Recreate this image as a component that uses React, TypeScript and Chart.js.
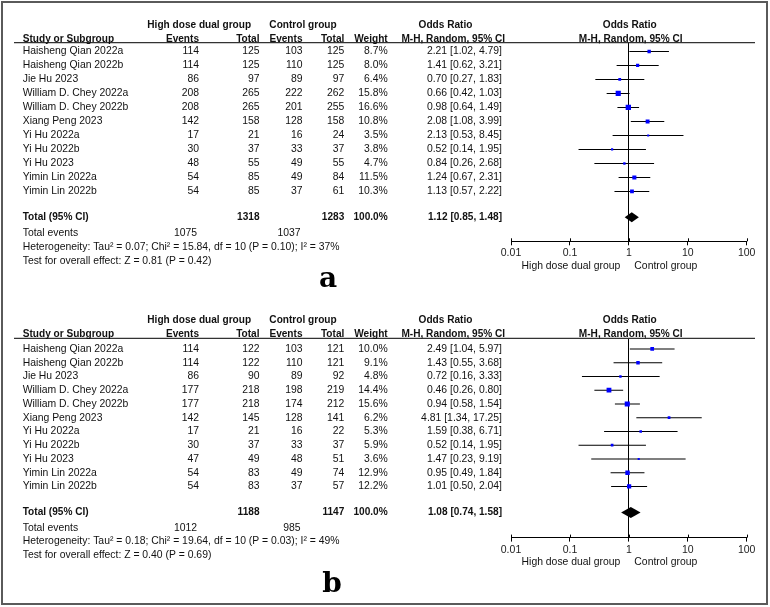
import React, { useEffect, useRef } from 'react';
import { Chart, registerables } from 'chart.js';

Chart.register(...registerables);

// ---------------- DATA ----------------
const studies = [
  'Haisheng Qian 2022a', 'Haisheng Qian 2022b', 'Jie Hu 2023', 'William D. Chey 2022a',
  'William D. Chey 2022b', 'Xiang Peng 2023', 'Yi Hu 2022a', 'Yi Hu 2022b', 'Yi Hu 2023',
  'Yimin Lin 2022a', 'Yimin Lin 2022b',
];

const aEventsHigh = [114, 114, 86, 208, 208, 142, 17, 30, 48, 54, 54];
const aTotalHigh = [125, 125, 97, 265, 265, 158, 21, 37, 55, 85, 85];
const aEventsCtrl = [103, 110, 89, 222, 201, 128, 16, 33, 49, 49, 37];
const aTotalCtrl = [125, 125, 97, 262, 255, 158, 24, 37, 55, 84, 61];
const aWeight = [8.7, 8.0, 6.4, 15.8, 16.6, 10.8, 3.5, 3.8, 4.7, 11.5, 10.3];
const aOR = [2.21, 1.41, 0.70, 0.66, 0.98, 2.08, 2.13, 0.52, 0.84, 1.24, 1.13];
const aLow = [1.02, 0.62, 0.27, 0.42, 0.64, 1.08, 0.53, 0.14, 0.26, 0.67, 0.57];
const aHigh = [4.79, 3.21, 1.83, 1.03, 1.49, 3.99, 8.45, 1.95, 2.68, 2.31, 2.22];
const aTotals = [1318, 1283];
const aTotalEvents = [1075, 1037];
const aPooled = [1.12, 0.85, 1.48];
const aHetero = 'Heterogeneity: Tau² = 0.07; Chi² = 15.84, df = 10 (P = 0.10); I² = 37%';
const aTest = 'Test for overall effect: Z = 0.81 (P = 0.42)';

const bEventsHigh = [114, 114, 86, 177, 177, 142, 17, 30, 47, 54, 54];
const bTotalHigh = [122, 122, 90, 218, 218, 145, 21, 37, 49, 83, 83];
const bEventsCtrl = [103, 110, 89, 198, 174, 128, 16, 33, 48, 49, 37];
const bTotalCtrl = [121, 121, 92, 219, 212, 141, 22, 37, 51, 74, 57];
const bWeight = [10.0, 9.1, 4.8, 14.4, 15.6, 6.2, 5.3, 5.9, 3.6, 12.9, 12.2];
const bOR = [2.49, 1.43, 0.72, 0.46, 0.94, 4.81, 1.59, 0.52, 1.47, 0.95, 1.01];
const bLow = [1.04, 0.55, 0.16, 0.26, 0.58, 1.34, 0.38, 0.14, 0.23, 0.49, 0.50];
const bHigh = [5.97, 3.68, 3.33, 0.80, 1.54, 17.25, 6.71, 1.95, 9.19, 1.84, 2.04];
const bTotals = [1188, 1147];
const bTotalEvents = [1012, 985];
const bPooled = [1.08, 0.74, 1.58];
const bHetero = 'Heterogeneity: Tau² = 0.18; Chi² = 19.64, df = 10 (P = 0.03); I² = 49%';
const bTest = 'Test for overall effect: Z = 0.40 (P = 0.69)';

const tickValues = [0.01, 0.1, 1, 10, 100];
const tickLabels = ['0.01', '0.1', '1', '10', '100'];
const groupNames = ['High dose dual group', 'Control group'];
const panelLetters = ['a', 'b'];

// ---------------- STYLE / LAYOUT ----------------
const FONT = '"Liberation Sans", Arial, Helvetica, sans-serif';
const REG = 10.4;
const BOLD = 10.1;
const TXT = '#111';
const BLUE = '#0000ff';

const COL = { name: 22.7, evH: 199, totH: 259.5, evC: 302.5, totC: 344.3, wt: 387.7, orTxt: 502 };

type PanelCfg = {
  eventsHigh: number[]; totalHigh: number[]; eventsCtrl: number[]; totalCtrl: number[];
  weight: number[]; or: number[]; low: number[]; high: number[];
  totals: number[]; totalEvents: number[]; pooled: number[]; hetero: string; test: string;
  letter: string;
  height: number; areaTop: number; areaBottom: number; yMin: number; yMax: number;
  totalRow: number; letterX: number; letterY: number; diamondHalf: number;
};

const AXIS_H = 19.2;

const panels: PanelCfg[] = [
  {
    eventsHigh: aEventsHigh, totalHigh: aTotalHigh, eventsCtrl: aEventsCtrl, totalCtrl: aTotalCtrl,
    weight: aWeight, or: aOR, low: aLow, high: aHigh, totals: aTotals, totalEvents: aTotalEvents,
    pooled: aPooled, hetero: aHetero, test: aTest, letter: panelLetters[0],
    height: 300, areaTop: 42.7, areaBottom: 242.7,
    yMin: (42.7 - 51.5) / 14.1, yMax: (242.7 - 51.5) / 14.1,
    totalRow: 11.85, letterX: 328, letterY: 286.7, diamondHalf: 5,
  },
  {
    eventsHigh: bEventsHigh, totalHigh: bTotalHigh, eventsCtrl: bEventsCtrl, totalCtrl: bTotalCtrl,
    weight: bWeight, or: bOR, low: bLow, high: bHigh, totals: bTotals, totalEvents: bTotalEvents,
    pooled: bPooled, hetero: bHetero, test: bTest, letter: panelLetters[1],
    height: 307, areaTop: 38.3, areaBottom: 239,
    yMin: (38.3 - 49) / 13.85, yMax: (239 - 49) / 13.85,
    totalRow: 11.9, letterX: 332, letterY: 291.7, diamondHalf: 5.5,
  },
];

function fmt2(v: number) { return v.toFixed(2); }

function makePlugin(p: PanelCfg) {
  return {
    id: 'forestTable',
    afterDatasetsDraw(chart: any) {
      const { ctx, scales } = chart;
      const x = scales.x, y = scales.y;
      const yy = y.getPixelForValue(p.totalRow);
      const xl = x.getPixelForValue(p.pooled[1]);
      const xm = x.getPixelForValue(p.pooled[0]);
      const xr = x.getPixelForValue(p.pooled[2]);
      ctx.save();
      ctx.beginPath();
      ctx.moveTo(xl, yy);
      ctx.lineTo(xm, yy - p.diamondHalf);
      ctx.lineTo(xr, yy);
      ctx.lineTo(xm, yy + p.diamondHalf);
      ctx.closePath();
      ctx.fillStyle = '#000';
      ctx.fill();
      ctx.restore();
    },
    afterDraw(chart: any) {
      const { ctx, scales, chartArea } = chart;
      const x = scales.x, y = scales.y;
      const text = (s: string, px: number, py: number, align: CanvasTextAlign, bold = false) => {
        ctx.font = `${bold ? 'bold ' : ''}${bold ? BOLD : REG}px ${FONT}`;
        ctx.textAlign = align;
        ctx.textBaseline = 'middle';
        ctx.fillStyle = TXT;
        ctx.fillText(s, px, py);
      };
      ctx.save();
      // header rule
      ctx.strokeStyle = '#333';
      ctx.lineWidth = 1.3;
      ctx.beginPath();
      ctx.moveTo(14, chartArea.top);
      ctx.lineTo(755, chartArea.top);
      ctx.stroke();
      // upper part of axis ticks
      ctx.strokeStyle = '#000';
      ctx.lineWidth = 1;
      for (const v of tickValues) {
        const px = Math.round(x.getPixelForValue(v)) + 0.5;
        ctx.beginPath();
        ctx.moveTo(px, chartArea.bottom - 3);
        ctx.lineTo(px, chartArea.bottom);
        ctx.stroke();
      }
      // headers
      const gy = chartArea.top - 17.7;
      const hy = chartArea.top - 3.7;
      text(groupNames[0], 199.2, gy, 'center', true);
      text('Control group', 303, gy, 'center', true);
      text('Odds Ratio', 445.5, gy, 'center', true);
      text('Odds Ratio', 629.7, gy, 'center', true);
      text('Study or Subgroup', COL.name, hy, 'left', true);
      text('Events', COL.evH, hy, 'right', true);
      text('Total', COL.totH, hy, 'right', true);
      text('Events', COL.evC, hy, 'right', true);
      text('Total', COL.totC, hy, 'right', true);
      text('Weight', COL.wt, hy, 'right', true);
      text('M-H, Random, 95% CI', 453.3, hy, 'center', true);
      text('M-H, Random, 95% CI', 630.7, hy, 'center', true);
      // rows
      studies.forEach((name, i) => {
        const ry = y.getPixelForValue(i);
        text(name, COL.name, ry, 'left');
        text(String(p.eventsHigh[i]), COL.evH, ry, 'right');
        text(String(p.totalHigh[i]), COL.totH, ry, 'right');
        text(String(p.eventsCtrl[i]), COL.evC, ry, 'right');
        text(String(p.totalCtrl[i]), COL.totC, ry, 'right');
        text(p.weight[i].toFixed(1) + '%', COL.wt, ry, 'right');
        text(`${fmt2(p.or[i])} [${fmt2(p.low[i])}, ${fmt2(p.high[i])}]`, COL.orTxt, ry, 'right');
      });
      // totals
      const ty = y.getPixelForValue(p.totalRow);
      text('Total (95% CI)', COL.name, ty, 'left', true);
      text(String(p.totals[0]), COL.totH, ty, 'right', true);
      text(String(p.totals[1]), COL.totC, ty, 'right', true);
      text('100.0%', COL.wt, ty, 'right', true);
      text(`${fmt2(p.pooled[0])} [${fmt2(p.pooled[1])}, ${fmt2(p.pooled[2])}]`, COL.orTxt, ty, 'right', true);
      const ey = y.getPixelForValue(13);
      text('Total events', COL.name, ey, 'left');
      text(String(p.totalEvents[0]), COL.evH - 2, ey, 'right');
      text(String(p.totalEvents[1]), COL.evC - 2, ey, 'right');
      text(p.hetero, COL.name, y.getPixelForValue(14), 'left');
      text(p.test, COL.name, y.getPixelForValue(15), 'left');
      // group labels under axis
      const one = x.getPixelForValue(1);
      text(groupNames[0], one - 8.5, chartArea.bottom + 24.8, 'right');
      text(groupNames[1], one + 5.5, chartArea.bottom + 24.8, 'left');
      // panel letter
      ctx.font = `bold 28px "DejaVu Serif", "Liberation Serif", serif`;
      ctx.textAlign = 'center';
      ctx.textBaseline = 'alphabetic';
      ctx.fillStyle = '#000';
      ctx.fillText(p.letter, p.letterX, p.letterY);
      ctx.restore();
    },
  };
}

function Panel({ cfg, top }: { cfg: PanelCfg; top: number }) {
  const ref = useRef<HTMLCanvasElement | null>(null);
  useEffect(() => {
    const canvas = ref.current;
    if (!canvas) return;
    const sideFor = (w: number) => 0.25 * w + 1.2;
    const chart = new Chart(canvas, {
      type: 'bar',
      data: {
        datasets: [
          {
            type: 'scatter',
            indexAxis: 'x',
            order: 0,
            data: cfg.or.map((v, i) => ({ x: v, y: i })),
            pointStyle: 'rect',
            pointRadius: cfg.weight.map((w) => sideFor(w) / Math.SQRT2),
            backgroundColor: BLUE,
            borderWidth: 0,
            showLine: false,
          } as any,
          {
            type: 'bar',
            indexAxis: 'y',
            order: 1,
            data: cfg.low.map((lo, i) => ({ x: [lo, cfg.high[i]], y: i })),
            backgroundColor: '#000',
            borderWidth: 0,
            barThickness: 1,
            grouped: false,
            inflateAmount: 0,
          } as any,
        ],
      },
      options: {
        indexAxis: 'y',
        animation: false,
        responsive: false,
        events: [],
        layout: {
          padding: {
            left: 511,
            right: 23.3,
            top: cfg.areaTop,
            bottom: cfg.height - cfg.areaBottom - AXIS_H,
          },
        },
        plugins: { legend: { display: false }, tooltip: { enabled: false }, title: { display: false } },
        scales: {
          x: {
            type: 'logarithmic',
            min: tickValues[0],
            max: tickValues[tickValues.length - 1],
            offset: false,
            afterBuildTicks: (scale: any) => {
              scale.ticks = tickValues.map((v) => ({ value: v }));
            },
            ticks: {
              autoSkip: false,
              maxRotation: 0,
              padding: 2,
              color: '#222',
              font: { family: FONT, size: 10.5 },
              callback: (_v: any, idx: number) => tickLabels[idx],
            },
            grid: {
              drawOnChartArea: true,
              drawTicks: true,
              tickLength: 4,
              tickColor: '#000',
              color: (c: any) => (c.tick && c.tick.value === 1 ? '#000' : 'rgba(0,0,0,0)'),
              lineWidth: 1,
            },
            border: { display: true, color: '#000', width: 1 },
          },
          y: {
            type: 'linear',
            display: false,
            reverse: true,
            offset: false,
            min: cfg.yMin,
            max: cfg.yMax,
          },
        },
      } as any,
      plugins: [makePlugin(cfg)],
    });
    let alive = true;
    if ((document as any).fonts && (document as any).fonts.ready) {
      (document as any).fonts.ready.then(() => { if (alive) chart.draw(); });
    }
    return () => { alive = false; chart.destroy(); };
  }, [cfg]);
  return (
    <canvas
      ref={ref}
      width={770}
      height={cfg.height}
      style={{ position: 'absolute', left: 0, top, width: 770, height: cfg.height }}
    />
  );
}

export default function App() {
  return (
    <div style={{ position: 'absolute', left: 0, top: 0, width: 770, height: 607, background: '#fff', overflow: 'hidden' }}>
      <Panel cfg={panels[0]} top={0} />
      <Panel cfg={panels[1]} top={300} />
      <div
        style={{
          position: 'absolute', left: 1, top: 1, width: 767, height: 604,
          boxSizing: 'border-box', border: '2px solid #5a5a5a', pointerEvents: 'none',
        }}
      />
    </div>
  );
}
